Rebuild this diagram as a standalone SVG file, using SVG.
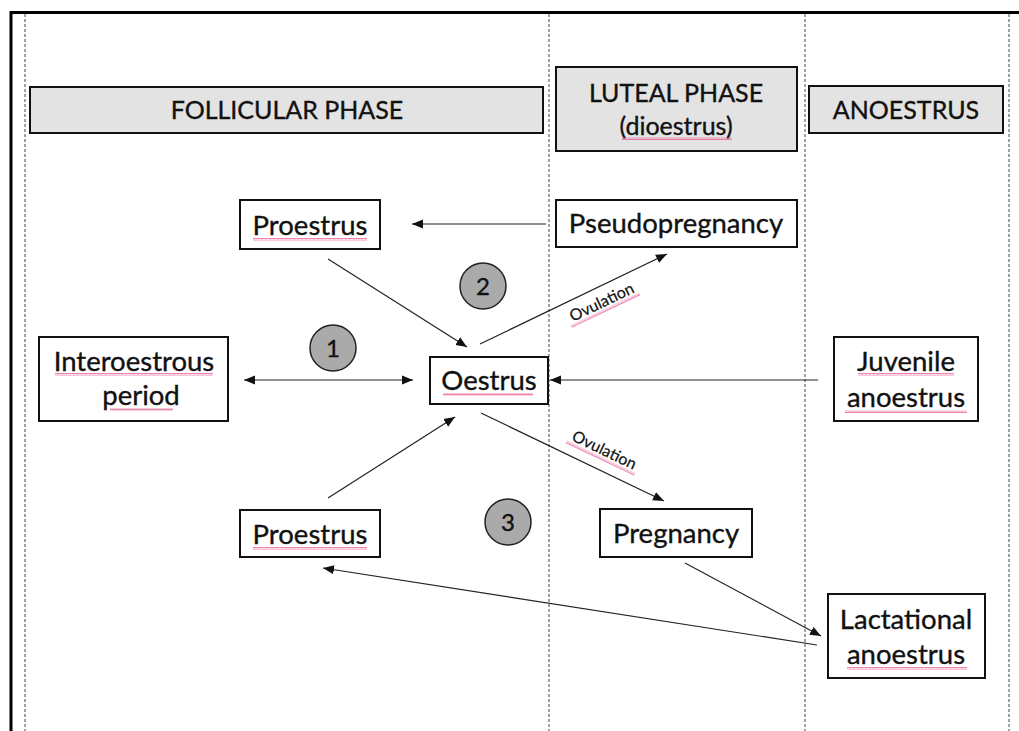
<svg xmlns="http://www.w3.org/2000/svg" width="1019" height="731" viewBox="0 0 1019 731">
<style>
.frame{fill:none;stroke:#000;stroke-width:3}
.dash{stroke:#444;stroke-width:1;stroke-dasharray:3 2;fill:none}
.hdr{fill:#e3e3e3;stroke:#111;stroke-width:2}
.box{fill:#fff;stroke:#111;stroke-width:2}
.circ{fill:#aaaaaa;stroke:#222;stroke-width:1.5}
.t{font-family:Lato,"Open Sans","Liberation Sans",sans-serif;fill:#111;stroke:#111;stroke-width:0.35;text-anchor:middle}
.h{font-size:25px}
.n{font-size:27.5px}
.s{font-size:16px;stroke-width:0.2}
.c{font-size:24px}
.edge{stroke:#222;stroke-width:1.2;fill:none}
.sq{fill:url(#sq)}
</style>
<defs>
<marker id="ah" markerUnits="userSpaceOnUse" markerWidth="12" markerHeight="10" refX="11" refY="4.5" orient="auto-start-reverse" viewBox="0 0 12 9">
<path d="M0,0 L11,4.5 L0,9 z" fill="#111"/>
</marker>
<pattern id="sq" patternUnits="userSpaceOnUse" width="4" height="3">
<path d="M0,2.5 L1,0.5 L2,2.5 L3,0.5 L4,2.5" stroke="#e6508c" stroke-width="0.7" fill="none"/>
</pattern>
</defs>
<rect width="1019" height="731" fill="#fff"/>
<path class="frame" d="M11,740 L11,12.5 L1030,12.5"/>
<g id="columns">
<line class="dash" x1="25" y1="14" x2="25" y2="731"/>
<line class="dash" x1="549" y1="14" x2="549" y2="731"/>
<line class="dash" x1="805" y1="14" x2="805" y2="731"/>
<line class="dash" x1="1009" y1="14" x2="1009" y2="731"/>
</g>
<g id="hdr-follicular">
<rect class="hdr" x="30" y="87" width="513" height="46"/>
<text class="t h" x="287" y="119">FOLLICULAR PHASE</text>
</g>
<g id="hdr-luteal">
<rect class="hdr" x="556" y="67" width="241" height="84"/>
<text class="t h" x="676" y="102">LUTEAL PHASE</text>
<text class="t h" x="676" y="135">(dioestrus)</text>
<rect class="sq" x="622" y="137" width="110" height="3"/>
</g>
<g id="hdr-anoestrus">
<rect class="hdr" x="809" y="86" width="194" height="47"/>
<text class="t h" x="906" y="119">ANOESTRUS</text>
</g>
<g id="connectors">
<line class="edge" x1="546" y1="224" x2="412" y2="224" marker-end="url(#ah)"/>
<line class="edge" x1="328" y1="259" x2="467" y2="347" marker-end="url(#ah)"/>
<line class="edge" x1="480" y1="344" x2="667" y2="254" marker-end="url(#ah)"/>
<line class="edge" x1="244" y1="380" x2="413" y2="380" marker-start="url(#ah)" marker-end="url(#ah)"/>
<line class="edge" x1="818" y1="380" x2="550" y2="380" marker-end="url(#ah)"/>
<line class="edge" x1="481" y1="413" x2="664" y2="501" marker-end="url(#ah)"/>
<line class="edge" x1="328" y1="498" x2="455" y2="417" marker-end="url(#ah)"/>
<line class="edge" x1="685" y1="563" x2="821" y2="636" marker-end="url(#ah)"/>
<line class="edge" x1="817" y1="645" x2="323" y2="568" marker-end="url(#ah)"/>
<g transform="translate(604,307) rotate(-25.5)">
<text class="t s" x="0" y="0">Ovulation</text>
<rect class="sq" x="-38" y="2" width="76" height="3"/>
</g>
<g transform="translate(602,455) rotate(25.5)">
<text class="t s" x="0" y="0">Ovulation</text>
<rect class="sq" x="-38" y="2" width="76" height="3"/>
</g>
</g>
<g id="circle-1">
<circle class="circ" cx="333" cy="348" r="23"/>
<text class="t c" x="333" y="357">1</text>
</g>
<g id="circle-2">
<circle class="circ" cx="483" cy="286" r="23"/>
<text class="t c" x="483" y="295">2</text>
</g>
<g id="circle-3">
<circle class="circ" cx="508" cy="522" r="23"/>
<text class="t c" x="508" y="531">3</text>
</g>
<g id="proestrus-top">
<rect class="box" x="240" y="200" width="140" height="49"/>
<text class="t n" x="310" y="235">Proestrus</text>
<rect class="sq" x="253" y="238" width="114" height="3"/>
</g>
<g id="pseudopregnancy">
<rect class="box" x="556" y="200" width="241" height="47"/>
<text class="t n" x="676" y="233">Pseudopregnancy</text>
</g>
<g id="interoestrous">
<rect class="box" x="39" y="337" width="189" height="84"/>
<text class="t n" x="134" y="371">Interoestrous</text>
<rect class="sq" x="55" y="373" width="158" height="3"/>
<text class="t n" x="141" y="405">period</text>
<rect class="sq" x="110" y="408" width="63" height="3"/>
</g>
<g id="oestrus">
<rect class="box" x="430" y="357" width="118" height="47"/>
<text class="t n" x="489" y="390">Oestrus</text>
<rect class="sq" x="443" y="393" width="90" height="3"/>
</g>
<g id="juvenile">
<rect class="box" x="834" y="337" width="144" height="84"/>
<text class="t n" x="906" y="371">Juvenile</text>
<rect class="sq" x="858" y="373" width="96" height="3"/>
<text class="t n" x="906" y="407">anoestrus</text>
<rect class="sq" x="845" y="410" width="122" height="3"/>
</g>
<g id="proestrus-bottom">
<rect class="box" x="240" y="510" width="140" height="47"/>
<text class="t n" x="310" y="544">Proestrus</text>
<rect class="sq" x="253" y="547" width="114" height="3"/>
</g>
<g id="pregnancy">
<rect class="box" x="600" y="509" width="152" height="48"/>
<text class="t n" x="676" y="543">Pregnancy</text>
</g>
<g id="lactational">
<rect class="box" x="828" y="594" width="157" height="84"/>
<text class="t n" x="906" y="629">Lactational</text>
<text class="t n" x="906" y="664">anoestrus</text>
<rect class="sq" x="847" y="667" width="120" height="3"/>
</g>
</svg>
